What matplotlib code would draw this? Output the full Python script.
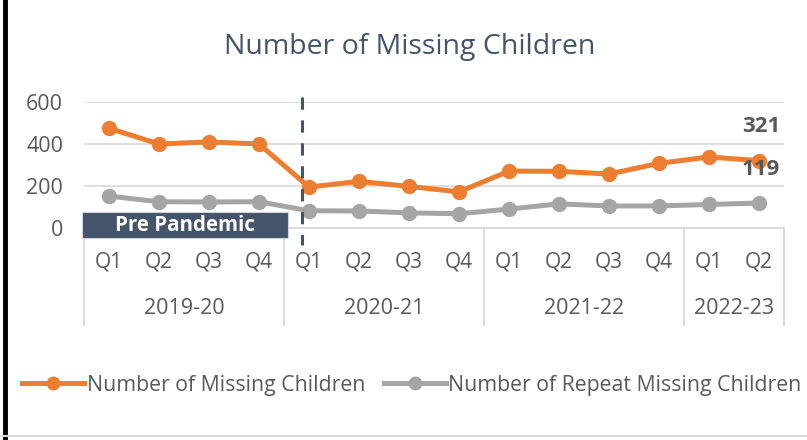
import matplotlib.pyplot as plt
from matplotlib.patches import Rectangle
from matplotlib.lines import Line2D

plt.rcParams['font.family'] = ['Open Sans', 'DejaVu Sans']

# Quarterly figures, 2019-20 Q1 to 2022-23 Q2
quarters = ["Q1", "Q2", "Q3", "Q4"] * 3 + ["Q1", "Q2"]
years = ["2019-20", "2020-21", "2021-22", "2022-23"]
year_sizes = [4, 4, 4, 2]
missing = [475, 400, 410, 400, 195, 222, 198, 172, 271, 270, 257, 308, 338, 321]
repeat = [152, 125, 124, 125, 82, 81, 72, 68, 90, 115, 105, 105, 112, 119]

orange = "#ED7D31"
grey = "#A5A5A5"
navy = "#44546A"
txt = "#595959"
axis_grey = "#D9D9D9"

fig = plt.figure(figsize=(8.07, 4.4), dpi=100)
ax = fig.add_axes([84 / 807, 1 - 228 / 440, 700 / 807, 126 / 440])

x = list(range(len(quarters)))
ax.plot(x, missing, color=orange, lw=3.6, marker="o", ms=10, zorder=3,
        solid_capstyle="round")
ax.plot(x, repeat, color=grey, lw=3.6, marker="o", ms=10, zorder=3,
        solid_capstyle="round")

ax.set_xlim(-0.5, len(x) - 0.5)
ax.set_ylim(0, 600)
ax.set_yticks([0, 200, 400, 600])
ax.yaxis.grid(True, color=axis_grey, lw=1.2)
ax.set_axisbelow(True)
ax.tick_params(axis="y", length=0, labelsize=15.5, labelcolor=txt, pad=15)
ax.tick_params(axis="x", length=0, labelbottom=False)
for s in ["top", "right", "left"]:
    ax.spines[s].set_visible(False)
ax.spines["bottom"].set_color(axis_grey)
ax.spines["bottom"].set_linewidth(1.2)

# two-level category axis
tr = ax.get_xaxis_transform()
for i, q in enumerate(quarters):
    ax.text(i, -0.27, q, transform=tr, ha="center", va="center",
            fontsize=15, color=txt)
start = 0
for yr, n in zip(years, year_sizes):
    ax.text(start + (n - 1) / 2, -0.64, yr, transform=tr, ha="center",
            va="center", fontsize=15.5, color=txt)
    ax.plot([start - 0.5, start - 0.5], [0, -0.77], transform=tr,
            color=axis_grey, lw=1.4, clip_on=False)
    start += n
ax.plot([start - 0.5, start - 0.5], [0, -0.77], transform=tr,
        color=axis_grey, lw=1.4, clip_on=False)

# last values
ax.annotate(str(missing[-1]), (x[-1], missing[-1]), xytext=(21, 34),
            textcoords="offset pixels", ha="right", va="center",
            fontsize=16, fontweight="bold", color=txt)
ax.annotate(str(repeat[-1]), (x[-1], repeat[-1]), xytext=(21, 34),
            textcoords="offset pixels", ha="right", va="center",
            fontsize=16, fontweight="bold", color=txt)

# pandemic marker
ax.plot([3.86, 3.86], [625, -80], color=navy, lw=2.2, ls=(0, (4, 3.5)),
        clip_on=False, zorder=4)
ax.add_patch(Rectangle((-0.54, -48), 4.12, 124, facecolor=navy,
                       edgecolor="#D0D4DA", lw=0.8, clip_on=False, zorder=5))
ax.text(1.52, 12, "Pre Pandemic", ha="center", va="center", fontsize=14.8,
        fontweight="bold", color="white", zorder=6)

fig.text(410 / 807, 1 - 47 / 440, "Number of Missing Children",
         ha="center", va="center", fontsize=20.5, color=navy)

handles = [
    Line2D([], [], color=orange, lw=3.6, marker="o", ms=9),
    Line2D([], [], color=grey, lw=3.6, marker="o", ms=9),
]
fig.legend(handles, ["Number of Missing Children",
                     "Number of Repeat Missing Children"],
           loc="center", bbox_to_anchor=(412 / 807, 1 - 385 / 440), ncol=2,
           frameon=False, fontsize=15.3, handlelength=2.9, handletextpad=0.12,
           columnspacing=0.9, borderpad=0, labelcolor=txt)

# frame edges
fig.add_artist(Line2D([5 / 807, 5 / 807], [0, 1], color="black", lw=3.5))
fig.add_artist(Line2D([0, 1], [4 / 440, 4 / 440], color=axis_grey, lw=1.5))

fig.savefig("out.png", dpi=100)
